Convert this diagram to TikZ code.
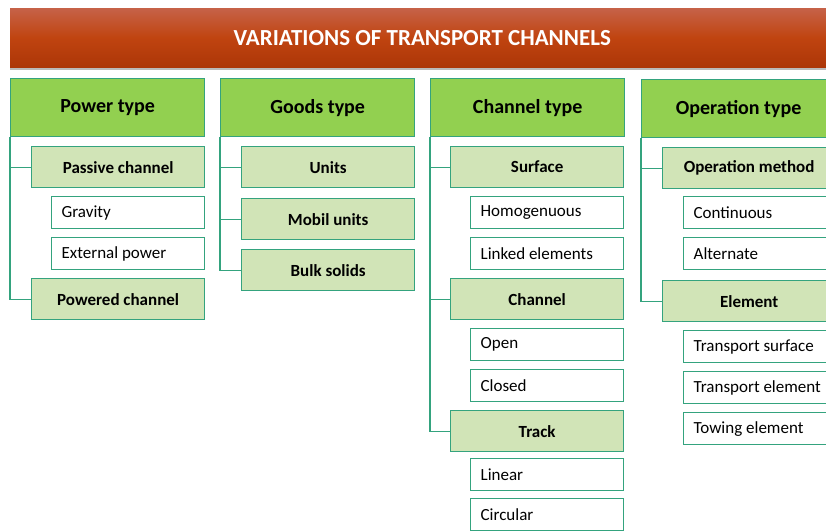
\documentclass[tikz,border=0pt]{standalone}
\usepackage{fontspec}
\setmainfont{Carlito}
\usepackage{tikz}
\usetikzlibrary{positioning,shadows}

\definecolor{lineteal}{RGB}{52,163,126}
\definecolor{headgreen}{RGB}{146,208,80}
\definecolor{subgreen}{RGB}{209,228,183}
\definecolor{bartop}{RGB}{198,98,72}
\definecolor{barmid}{RGB}{192,68,16}
\definecolor{barbot}{RGB}{172,54,8}

\begin{document}
\begin{tikzpicture}[x=1pt,y=-1pt,
  titlebar/.style={anchor=north west,minimum width=824pt,minimum height=59pt,
    top color=bartop,bottom color=barbot,middle color=barmid,
    drop shadow={shadow xshift=0pt,shadow yshift=-3pt,fill=black!45,opacity=.6},
    text=white,font=\fontsize{23}{27}\selectfont\bfseries},
  coltype/.style={anchor=north west,draw=lineteal,line width=1.3pt,fill=headgreen,
    minimum width=194pt,minimum height=58pt,font=\fontsize{20}{24}\selectfont\bfseries},
  subtype/.style={anchor=north west,draw=lineteal,line width=1.3pt,fill=subgreen,
    minimum width=173pt,minimum height=41pt,font=\fontsize{17}{20}\selectfont\bfseries},
  variant/.style={anchor=north west,draw=lineteal,line width=1.3pt,fill=white,
    inner xsep=10pt,text width=133pt,align=flush left,minimum height=32pt,
    font=\fontsize{17}{20}\selectfont},
  link/.style={draw=lineteal,line width=1.3pt}]

\useasboundingbox (0,0) rectangle (826,530);
\clip (0,0) rectangle (826,530);

\node (title) [titlebar] at (10,8) {VARIATIONS OF TRANSPORT CHANNELS};

% power type
\node (power) [coltype] at (10,78) {Power type};
\node (passive) [subtype] at (31,146) {Passive channel};
\node (gravity) [variant] at (51,196) {Gravity};
\node (external) [variant] at (51,237) {External power};
\node (powered) [subtype] at (31,278) {Powered channel};

% goods type
\node (goods) [coltype] at (220,78) {Goods type};
\node (units) [subtype] at (241,146) {Units};
\node (mobil) [subtype] at (241,198) {Mobil units};
\node (bulk) [subtype] at (241,249) {Bulk solids};

% channel type
\node (channel) [coltype] at (430,78) {Channel type};
\node (surface) [subtype] at (450,146) {Surface};
\node (homog) [variant] at (470,196) {Homogenuous};
\node (linked) [variant] at (470,237) {Linked elements};
\node (chan) [subtype] at (450,278) {Channel};
\node (open) [variant] at (470,328) {Open};
\node (closed) [variant] at (470,369) {Closed};
\node (track) [subtype] at (450,410) {Track};
\node (linear) [variant] at (470,458) {Linear};
\node (circular) [variant] at (470,498) {Circular};

% operation type
\node (operation) [coltype] at (641,79) {Operation type};
\node (method) [subtype] at (662,147) {Operation method};
\node (contin) [variant] at (683,196) {Continuous};
\node (altern) [variant] at (683,237) {Alternate};
\node (element) [subtype] at (662,280) {Element};
\node (tsurface) [variant] at (683,330) {Transport surface};
\node (telement) [variant] at (683,371) {Transport element};
\node (towing) [variant] at (683,412) {Towing element};

% tree lines
\draw[link] (power.south west) |- (powered.west);
\draw[link] (power.south west |- passive.west) -- (passive.west);

\draw[link] (goods.south west) |- (bulk.west);
\draw[link] (goods.south west |- units.west) -- (units.west);
\draw[link] (goods.south west |- mobil.west) -- (mobil.west);

\draw[link] (channel.south west) |- (track.west);
\draw[link] (channel.south west |- surface.west) -- (surface.west);
\draw[link] (channel.south west |- chan.west) -- (chan.west);

\draw[link] (operation.south west) |- (element.west);
\draw[link] (operation.south west |- method.west) -- (method.west);

\end{tikzpicture}
\end{document}
